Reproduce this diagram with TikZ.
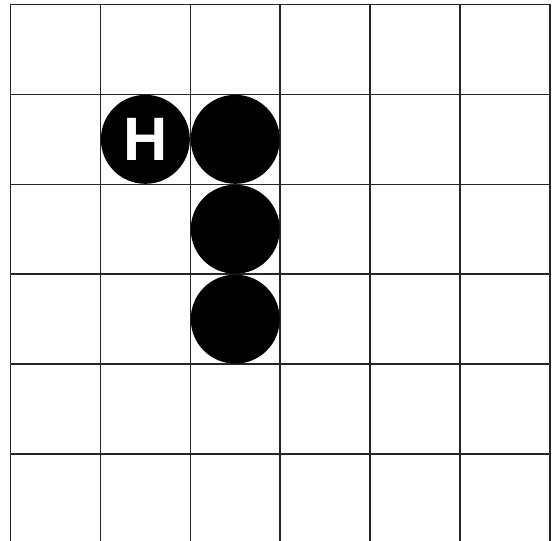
\documentclass[tikz,border=0pt]{standalone}
\usepackage{fontspec}
\setmainfont{Liberation Sans}
\tikzset{
  gridline/.style={draw=black!85,line width=0.45pt},
  stone/.style={circle,fill=black,inner sep=0pt,minimum size=0.99cm,
    text=white,font=\fontsize{19.4}{19.4}\selectfont\bfseries}
}
\begin{document}
\begin{tikzpicture}[x=1cm,y=1cm]
        \useasboundingbox (-0.117,0.05) rectangle (6.057,-5.968);
        \foreach \i in {0,...,6} {
            \draw[gridline] (\i,0) -- (\i,-5.968);
        }
        \foreach \j in {0,...,5} {
            \draw[gridline] (0,-\j) -- (6,-\j);
        }
        \node[stone] (head) at (1.5,-1.5) {H};
        \foreach \y/\name in {1.5/body1,2.5/body2,3.5/body3} {
            \node[stone] (\name) at (2.5,-\y) {};
        }
    \end{tikzpicture}
\end{document}
